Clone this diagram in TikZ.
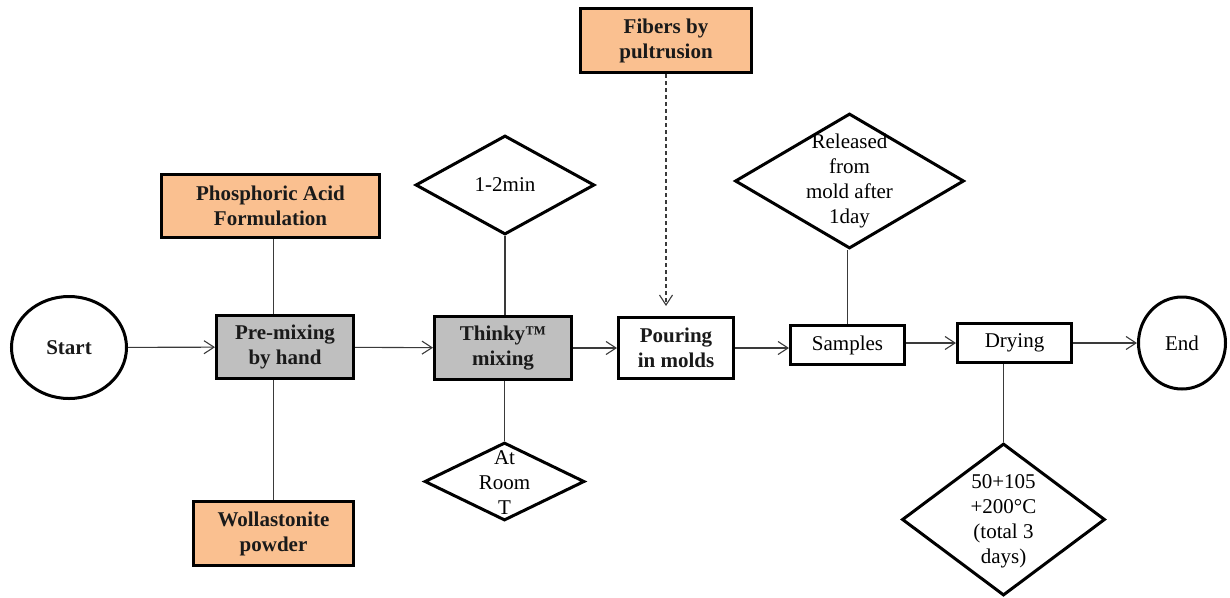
\documentclass[tikz,border=0pt]{standalone}
\usepackage{fontspec}
\setmainfont{Liberation Serif}
\usetikzlibrary{shapes.geometric,arrows.meta}
\definecolor{peach}{HTML}{FAC090}
\definecolor{grayfill}{HTML}{BFBFBF}
\definecolor{linec}{HTML}{3A3A3A}
\definecolor{txtc}{HTML}{1A1A1A}
\begin{document}
\begin{tikzpicture}[x=1pt,y=-1pt,
  box/.style={draw=black, line width=3pt, inner sep=0pt, align=center,
    font=\fontsize{21}{25}\selectfont\bfseries, text=txtc},
  plainbox/.style={draw=black, line width=3pt, inner sep=0pt, align=center,
    font=\fontsize{21}{25}\selectfont, text=black},
  terminal/.style={ellipse, draw=black, line width=3pt, inner sep=0pt, fill=white},
  dia/.style={diamond, draw=black, line width=3pt, inner sep=0pt, fill=white},
  dtext/.style={align=center, inner sep=0pt, font=\fontsize{21}{25}\selectfont, text=black},
  conn/.style={draw=linec, line width=1.1pt},
  arr/.style={conn, -{Straight Barb[length=10pt, width=13pt, line width=1.1pt]}},
  dasharr/.style={arr, dash pattern=on 4pt off 3pt}
]
\useasboundingbox (0,0) rectangle (1230,597);

% main flow
\node[terminal, minimum width=115pt, minimum height=102pt,
      font=\fontsize{21}{25}\selectfont\bfseries, text=txtc] (start) at (69,347.5) {Start};
\node[box, fill=grayfill, minimum width=137pt, minimum height=63pt] (premix) at (285,347) {Pre-mixing\\by hand};
\node[box, fill=peach, minimum width=218pt, minimum height=63pt] (phos) at (270.5,206) {Phosphoric Acid\\Formulation};
\node[box, fill=peach, minimum width=160pt, minimum height=64pt] (woll) at (273.5,533.5) {Wollastonite\\powder};
\node[box, fill=grayfill, minimum width=137pt, minimum height=63pt] (thinky) at (503,348) {Thinky™\\mixing};
\node[box, fill=white, minimum width=115pt, minimum height=61pt] (pour) at (676,348) {Pouring\\in molds};
\node[box, fill=peach, minimum width=171pt, minimum height=64pt] (fib) at (666,40.5) {Fibers by\\pultrusion};
\node[plainbox, minimum width=114pt, minimum height=39pt] (samples) at (847.5,345) {Samples};
\node[plainbox, minimum width=114pt, minimum height=39pt] (dry) at (1014.5,343) {Drying};
\node[terminal, minimum width=87pt, minimum height=92pt,
      font=\fontsize{21}{25}\selectfont, text=black] (end) at (1182,343) {End};

% diamonds
\node[dia, minimum width=179pt, minimum height=99pt] (d1) at (505,185) {};
\node[dtext] (d1t) at (d1) {1-2min};
\node[dia, minimum width=160pt, minimum height=78pt] (d2) at (504.5,481.5) {};
\node[dtext] (d2t) at ([yshift=-1pt]d2) {At\\Room\\T};
\node[dia, minimum width=229pt, minimum height=135pt] (d3) at (849.5,181) {};
\node[dtext] (d3t) at (d3) {Released\\from\\mold after\\1day};
\node[dia, minimum width=203pt, minimum height=152pt] (d4) at (1003.5,519.5) {};
\node[dtext] (d4t) at ([yshift=-2pt]d4) {50+105\\+200°C\\(total 3\\days)};

% connectors
\draw[arr] (start) -- (premix);
\draw[arr] (premix) -- (thinky);
\draw[arr] (thinky) -- (pour);
\draw[arr] (pour.east) -- (pour.east -| samples.west);
\draw[arr] (samples.east |- dry) -- (dry.west);
\draw[arr] (dry) -- (end);

\draw[conn] (phos.south -| woll.north) -- (premix.north -| woll.north);
\draw[conn] (woll.north) -- (woll.north |- premix.south);
\draw[conn] (d1.south) -- (d1.south |- thinky.north);
\draw[conn] (thinky.south -| d2.north) -- (d2.north);
\draw[conn] (samples.north) -- (samples.north |- d3.south);
\draw[conn] (dry.south -| d4.north) -- (d4.north);
\draw[dasharr, shorten >=10pt] (fib.south) -- (fib.south |- pour.north);
\end{tikzpicture}
\end{document}
